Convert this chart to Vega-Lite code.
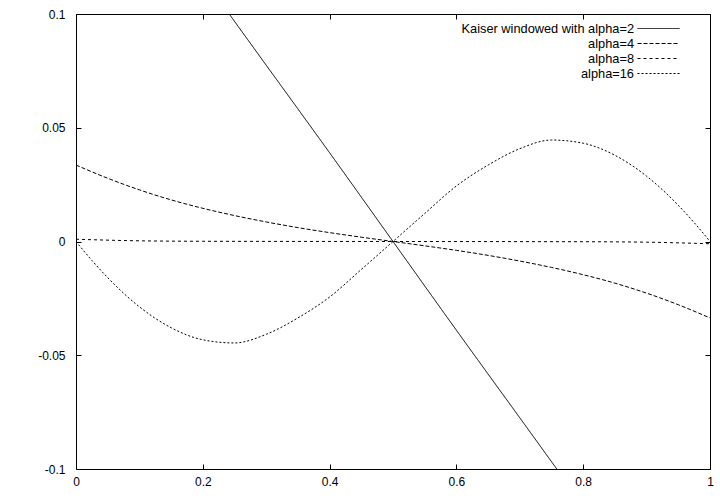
{
  "$schema": "https://vega.github.io/schema/vega-lite/v6.json",
  "width": 634,
  "height": 455,
  "autosize": {"type": "none"},
  "padding": {"left": 76, "top": 14, "right": 10, "bottom": 35},
  "background": "white",
  "config": {
    "font": "Liberation Sans",
    "view": {"stroke": "black", "strokeWidth": 1},
    "axis": {"grid": false, "domain": false, "ticks": true, "tickColor": "black", "tickSize": -5, "labelColor": "black", "labelFont": "Liberation Sans", "labelFontSize": 12, "title": null}
  },
  "data": {"values": [
    {"s": "Kaiser windowed with alpha=2", "x": 0, "y": 0.192},
    {"s": "Kaiser windowed with alpha=2", "x": 0.1, "y": 0.154},
    {"s": "Kaiser windowed with alpha=2", "x": 0.2, "y": 0.116},
    {"s": "Kaiser windowed with alpha=2", "x": 0.3, "y": 0.0775},
    {"s": "Kaiser windowed with alpha=2", "x": 0.4, "y": 0.039},
    {"s": "Kaiser windowed with alpha=2", "x": 0.5, "y": 0},
    {"s": "Kaiser windowed with alpha=2", "x": 0.6, "y": -0.039},
    {"s": "Kaiser windowed with alpha=2", "x": 0.7, "y": -0.0775},
    {"s": "Kaiser windowed with alpha=2", "x": 0.8, "y": -0.116},
    {"s": "Kaiser windowed with alpha=2", "x": 0.9, "y": -0.154},
    {"s": "Kaiser windowed with alpha=2", "x": 1, "y": -0.192},
    {"s": "alpha=4", "x": 0, "y": 0.0336},
    {"s": "alpha=4", "x": 0.05, "y": 0.0278},
    {"s": "alpha=4", "x": 0.1, "y": 0.0227},
    {"s": "alpha=4", "x": 0.15, "y": 0.0183},
    {"s": "alpha=4", "x": 0.2, "y": 0.0146},
    {"s": "alpha=4", "x": 0.25, "y": 0.0114},
    {"s": "alpha=4", "x": 0.3, "y": 0.0086},
    {"s": "alpha=4", "x": 0.35, "y": 0.0061},
    {"s": "alpha=4", "x": 0.4, "y": 0.0039},
    {"s": "alpha=4", "x": 0.45, "y": 0.0019},
    {"s": "alpha=4", "x": 0.5, "y": 0},
    {"s": "alpha=4", "x": 0.55, "y": -0.0019},
    {"s": "alpha=4", "x": 0.6, "y": -0.0039},
    {"s": "alpha=4", "x": 0.65, "y": -0.0061},
    {"s": "alpha=4", "x": 0.7, "y": -0.0086},
    {"s": "alpha=4", "x": 0.75, "y": -0.0114},
    {"s": "alpha=4", "x": 0.8, "y": -0.0146},
    {"s": "alpha=4", "x": 0.85, "y": -0.0183},
    {"s": "alpha=4", "x": 0.9, "y": -0.0227},
    {"s": "alpha=4", "x": 0.95, "y": -0.0278},
    {"s": "alpha=4", "x": 1, "y": -0.0336},
    {"s": "alpha=8", "x": 0, "y": 0.001},
    {"s": "alpha=8", "x": 0.1, "y": 0.0003},
    {"s": "alpha=8", "x": 0.2, "y": 0.0001},
    {"s": "alpha=8", "x": 0.5, "y": 0},
    {"s": "alpha=8", "x": 0.8, "y": -0.0001},
    {"s": "alpha=8", "x": 0.9, "y": -0.0003},
    {"s": "alpha=8", "x": 1, "y": -0.001},
    {"s": "alpha=16", "x": 0, "y": 0},
    {"s": "alpha=16", "x": 0.025, "y": -0.0083},
    {"s": "alpha=16", "x": 0.05, "y": -0.0159},
    {"s": "alpha=16", "x": 0.1, "y": -0.0287},
    {"s": "alpha=16", "x": 0.15, "y": -0.0379},
    {"s": "alpha=16", "x": 0.2, "y": -0.0432},
    {"s": "alpha=16", "x": 0.25, "y": -0.0446},
    {"s": "alpha=16", "x": 0.3, "y": -0.0408},
    {"s": "alpha=16", "x": 0.35, "y": -0.0336},
    {"s": "alpha=16", "x": 0.4, "y": -0.0244},
    {"s": "alpha=16", "x": 0.45, "y": -0.0123},
    {"s": "alpha=16", "x": 0.5, "y": 0},
    {"s": "alpha=16", "x": 0.55, "y": 0.0123},
    {"s": "alpha=16", "x": 0.6, "y": 0.0244},
    {"s": "alpha=16", "x": 0.65, "y": 0.0336},
    {"s": "alpha=16", "x": 0.7, "y": 0.0408},
    {"s": "alpha=16", "x": 0.75, "y": 0.0446},
    {"s": "alpha=16", "x": 0.8, "y": 0.0432},
    {"s": "alpha=16", "x": 0.85, "y": 0.0379},
    {"s": "alpha=16", "x": 0.9, "y": 0.0287},
    {"s": "alpha=16", "x": 0.95, "y": 0.0159},
    {"s": "alpha=16", "x": 0.975, "y": 0.0083},
    {"s": "alpha=16", "x": 1, "y": 0}
  ]},
  "layer": [
    {
      "mark": {"type": "line", "clip": true, "strokeWidth": 1, "color": "black", "interpolate": "monotone"},
      "encoding": {
        "x": {"field": "x", "type": "quantitative", "scale": {"domain": [0, 1], "nice": false, "zero": false}, "axis": {"orient": "bottom", "values": [0, 0.2, 0.4, 0.6, 0.8, 1], "labelExpr": "datum.value + ''", "labelPadding": 12, "labelFlush": false}},
        "y": {"field": "y", "type": "quantitative", "scale": {"domain": [-0.1, 0.1], "nice": false, "zero": false}, "axis": {"orient": "left", "values": [-0.1, -0.05, 0, 0.05, 0.1], "labelExpr": "datum.value + ''", "labelPadding": 16, "labelFlush": false}},
        "strokeDash": {
          "field": "s", "type": "nominal",
          "scale": {"domain": ["Kaiser windowed with alpha=2", "alpha=4", "alpha=8", "alpha=16"], "range": [[1, 0], [4, 2], [3, 3], [2, 2]]},
          "legend": {"title": null, "orient": "none", "legendX": 358, "legendY": 7, "padding": 0, "symbolType": "M28,0H34", "symbolSize": 196, "symbolStrokeColor": "black", "symbolFillColor": "transparent", "symbolStrokeWidth": 1, "labelFontSize": 12.8, "labelFont": "Liberation Sans", "labelColor": "black", "labelAlign": "right", "labelOffset": 185, "rowPadding": -2, "labelLimit": 300}
        }
      }
    },
    {
      "mark": {"type": "line", "clip": true, "opacity": 0},
      "encoding": {
        "x": {"field": "x", "type": "quantitative", "scale": {"domain": [0, 1], "nice": false, "zero": false}, "axis": {"orient": "top", "values": [0, 0.2, 0.4, 0.6, 0.8, 1], "labels": false}},
        "y": {"field": "y", "type": "quantitative", "scale": {"domain": [-0.1, 0.1], "nice": false, "zero": false}, "axis": {"orient": "right", "values": [-0.1, -0.05, 0, 0.05, 0.1], "labels": false}},
        "detail": {"field": "s", "type": "nominal"}
      }
    }
  ],
  "resolve": {"axis": {"x": "independent", "y": "independent"}}
}
